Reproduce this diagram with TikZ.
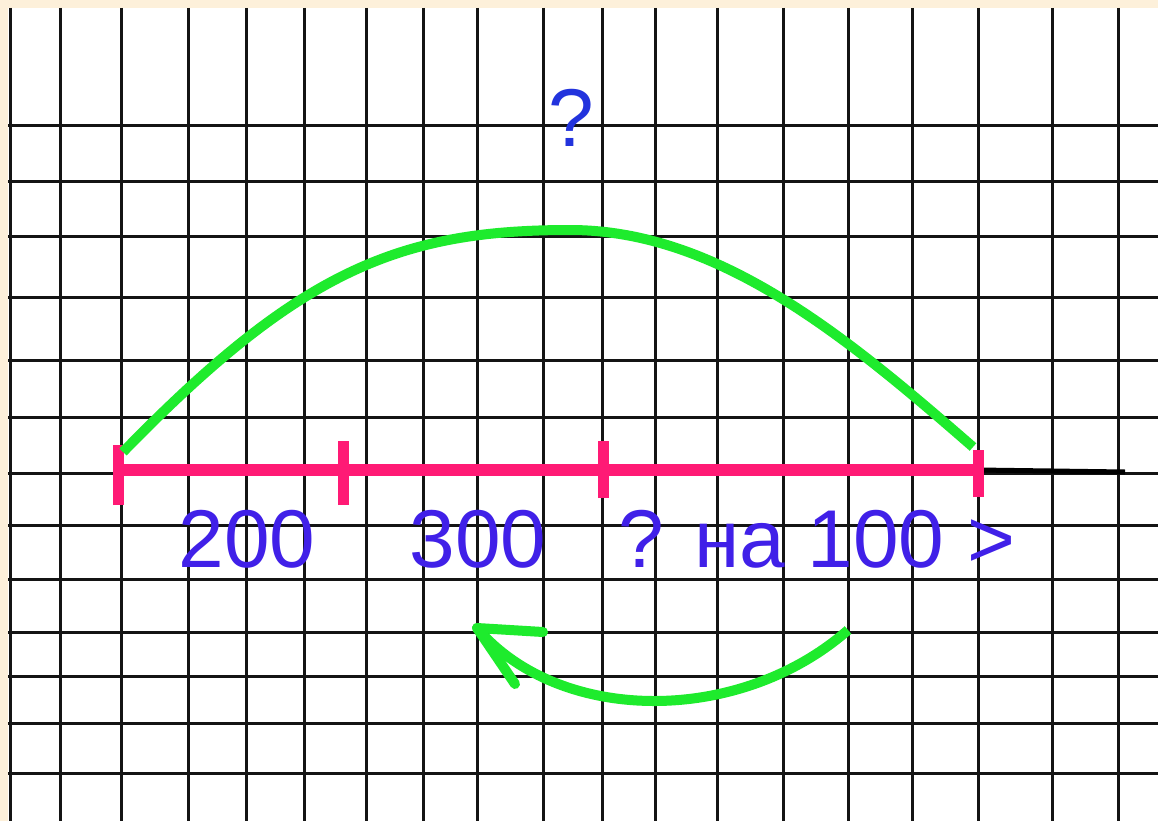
\documentclass[tikz,border=0pt]{standalone}
\usepackage{fontspec}
\setmainfont{Liberation Sans}
\usepackage{tikz}
\usetikzlibrary{positioning}
\definecolor{paper}{HTML}{FDF0DA}
\definecolor{gridline}{HTML}{141414}
\definecolor{segpink}{HTML}{FF1A75}
\definecolor{arcgreen}{HTML}{1EEB2D}
\definecolor{asktext}{HTML}{2233DD}
\definecolor{numtext}{HTML}{4020E8}

\begin{document}
\begin{tikzpicture}[x=1pt, y=-1pt, every node/.style={inner sep=0pt, font=\fontsize{82}{88}\selectfont}]
  \useasboundingbox (0,0) rectangle (1158,821);
  \fill[paper] (0,0) rectangle (1158,821);
  \fill[white] (8,8) rectangle (1158,821);
  % squared paper
  \foreach \x in {10,60,121,188,246,304,366,423,477,543,602,655,717,783,848,912,978,1052,1118}{\draw[gridline, line width=3pt] (\x,8) -- (\x,821);}
  \foreach \y in {126,182,236,297,360,417,473,525,579,632,676,723,773}{\draw[gridline, line width=3pt] (8,\y) -- (1158,\y);}
  % segment
  \coordinate (a) at (118,470);
  \coordinate (b) at (343,470);
  \coordinate (c) at (603,470);
  \coordinate (d) at (978,470);
  \coordinate (ray) at (1125,472);
  \draw[black, line width=5pt] (d) -- (ray);
  \draw[segpink, line width=12pt] (a) -- (d);
  \foreach \p/\u/\l in {a/35/25, b/35/29, c/28/29, d/27/20}{\draw[segpink, line width=11pt] ([yshift=-\u pt]\p) -- ([yshift=\l pt]\p);}
  % arc over the whole
  \coordinate (atop) at (123,452);
  \coordinate (peak) at (570,230);
  \coordinate (dtop) at (973,447);
  \draw[arcgreen, line width=10pt] (atop) .. controls (300,270) and (400,230) .. (peak) .. controls (720,230) and (850,340) .. (dtop);
  \node[asktext, anchor=base] (whole) at (571,147) {?};
  % labels
  \node[numtext, anchor=base] (first) at (247,567) {200};
  \node[numtext, anchor=base] (second) at (478,567) {300};
  \node[numtext, anchor=base west] (third) at (618,567) {? на 100 >};
  % comparison arrow
  \coordinate (from) at (848,630);
  \coordinate (tip) at (477,628);
  \draw[arcgreen, line width=10pt] (from) .. controls (740,725) and (560,725) .. (tip);
  \draw[arcgreen, line width=10pt, line cap=round] (tip) -- ++(66,4);
  \draw[arcgreen, line width=10pt, line cap=round] (tip) -- ++(38,56);
\end{tikzpicture}
\end{document}
